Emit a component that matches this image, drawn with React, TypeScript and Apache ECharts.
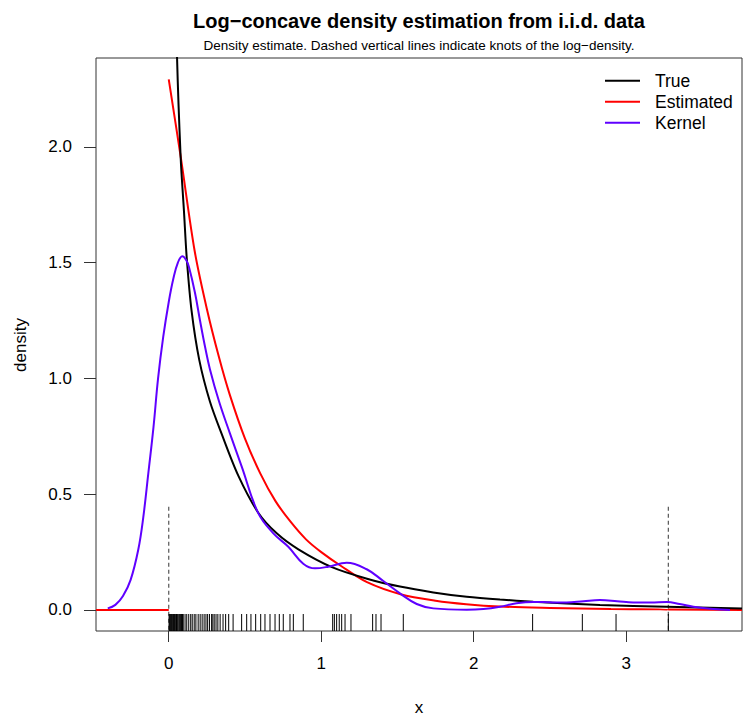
import React, { useEffect, useRef } from "react";
import * as echarts from "echarts";

// ---- data ----
const xTicks = [0, 1, 2, 3];
const yTicks = [0, 0.5, 1, 1.5, 2];

const trueX = [0.035, 0.052, 0.078, 0.1, 0.118, 0.15, 0.2, 0.27, 0.347, 0.456, 0.587, 0.708, 0.85, 1.07, 1.3, 1.516, 1.735, 1.954, 2.172, 2.39, 2.828, 3.265, 3.759];
const trueY = [3.2, 2.45, 1.956, 1.72, 1.52, 1.29, 1.08, 0.9, 0.76, 0.58, 0.42, 0.331, 0.262, 0.185, 0.135, 0.101, 0.076, 0.057, 0.045, 0.036, 0.022, 0.014, 0.006];

const estLeftX = [-0.477, 0];
const estLeftY = [0, 0];
const estX = [0, 0.08, 0.17, 0.25, 0.33, 0.4, 0.5, 0.6, 0.7, 0.8, 0.9, 1.0, 1.13, 1.3, 1.52, 1.75, 1.95, 2.17, 2.5, 2.9, 3.276];
const estY = [2.291, 1.95, 1.55, 1.3, 1.09, 0.93, 0.74, 0.59, 0.47, 0.38, 0.305, 0.25, 0.19, 0.12, 0.068, 0.04, 0.025, 0.015, 0.009, 0.004, 0.002];
const estRightX = [3.276, 3.759];
const estRightY = [0, 0];

const kernelX = [-0.4, -0.35, -0.3, -0.25, -0.2, -0.167, -0.134, -0.1, -0.07, -0.036, 0.0, 0.03, 0.06, 0.089, 0.115, 0.133, 0.172, 0.205, 0.24, 0.27, 0.33, 0.4, 0.478, 0.587, 0.686, 0.784, 0.882, 0.959, 1.046, 1.167, 1.298, 1.407, 1.516, 1.626, 1.735, 1.954, 2.063, 2.172, 2.28, 2.39, 2.5, 2.609, 2.72, 2.828, 2.94, 3.046, 3.16, 3.265, 3.35, 3.44, 3.571, 3.68];
const kernelY = [0.007, 0.022, 0.06, 0.13, 0.26, 0.4, 0.59, 0.79, 1.0, 1.18, 1.33, 1.43, 1.5, 1.527, 1.51, 1.48, 1.37, 1.25, 1.13, 1.04, 0.9, 0.765, 0.62, 0.418, 0.331, 0.273, 0.2, 0.18, 0.187, 0.204, 0.176, 0.125, 0.072, 0.026, 0.007, 0.001, 0.004, 0.014, 0.029, 0.035, 0.033, 0.032, 0.038, 0.043, 0.038, 0.032, 0.032, 0.034, 0.026, 0.014, 0.004, 0.0];

const knots = [0, 3.276];
const knotTop = 0.446;

const rugValues = [
  0.002, 0.006, 0.01, 0.014, 0.019, 0.023, 0.028, 0.032, 0.037, 0.041, 0.046, 0.051, 0.056, 0.061, 0.067, 0.072, 0.078, 0.084, 0.09, 0.095,
  0.107, 0.118, 0.131, 0.144, 0.154, 0.167, 0.178, 0.193, 0.206, 0.219, 0.232, 0.244, 0.255, 0.267, 0.281, 0.289, 0.298, 0.31, 0.322, 0.337, 0.356, 0.373, 0.393, 0.422,
  0.478, 0.511, 0.539, 0.57, 0.603, 0.631, 0.664, 0.697, 0.725, 0.751, 0.795, 0.817, 0.882,
  1.075, 1.086, 1.101, 1.118, 1.134, 1.156, 1.195, 1.337, 1.359, 1.392, 1.538,
  2.386, 2.712, 2.933, 3.276,
];

const legendNames = ["True", "Estimated", "Kernel"];
const legendColors = ["#000000", "#FF0000", "#5F00FF"];

// ---- layout ----
const X_MIN = -0.477;
const X_MAX = 3.759;
const Y_MIN = -0.0907;
const Y_MAX = 2.3834;
const FONT = "'Liberation Sans', Arial, Helvetica, sans-serif";

const zip = (xs: number[], ys: number[]) => xs.map((x, i) => [x, ys[i]]);

export default function App() {
  const ref = useRef<HTMLDivElement>(null);
  useEffect(() => {
    const chart = echarts.init(ref.current!, null, { renderer: "svg" });
    const estData: any[] = [...zip(estLeftX, estLeftY), [0, "-"], ...zip(estX, estY), ...zip(estRightX, estRightY)];
    const option: any = {
      animation: false,
      backgroundColor: "#ffffff",
      grid: {
        left: 96,
        top: 58,
        width: 646,
        height: 573,
        show: true,
        borderColor: "#333",
        borderWidth: 1,
        backgroundColor: "transparent",
      },
      xAxis: {
        type: "value",
        min: X_MIN,
        max: X_MAX,
        axisLine: { show: false, onZero: false },
        splitLine: { show: false },
        axisTick: { show: true, inside: false, length: 11, customValues: xTicks, lineStyle: { color: "#333", width: 1 } },
        axisLabel: {
          customValues: xTicks,
          margin: 24,
          color: "#000",
          fontSize: 17,
          fontFamily: FONT,
          formatter: (v: number) => String(v),
        },
      },
      yAxis: {
        type: "value",
        min: Y_MIN,
        max: Y_MAX,
        axisLine: { show: false, onZero: false },
        splitLine: { show: false },
        axisTick: { show: true, inside: false, length: 12, customValues: yTicks, lineStyle: { color: "#333", width: 1 } },
        axisLabel: {
          customValues: yTicks,
          margin: 24,
          color: "#000",
          fontSize: 17,
          fontFamily: FONT,
          formatter: (v: number) => v.toFixed(1),
        },
      },
      series: [
        {
          name: "Knots",
          type: "custom",
          data: knots.map((k) => [k, knotTop]),
          encode: { x: 0, y: 1 },
          renderItem: (params: any, api: any) => {
            const k = api.value(0);
            const top = api.coord([k, api.value(1)]);
            const bot = api.coord([k, Y_MIN]);
            return {
              type: "line",
              shape: { x1: top[0], y1: top[1], x2: bot[0], y2: bot[1] },
              style: { stroke: "#555", lineWidth: 1.2, lineDash: [4, 3] },
            };
          },
          z: 1,
        },
        {
          name: "Rug",
          type: "custom",
          data: rugValues.map((v) => [v, 0]),
          encode: { x: 0, y: 1 },
          renderItem: (params: any, api: any) => {
            const p = api.coord([api.value(0), Y_MIN]);
            return {
              type: "line",
              shape: { x1: p[0], y1: p[1], x2: p[0], y2: p[1] - 17 },
              style: { stroke: "#000", lineWidth: 1 },
            };
          },
          z: 2,
        },
        {
          name: "Estimated",
          type: "line",
          data: estData,
          symbol: "none",
          showSymbol: false,
          smooth: 0.3,
          connectNulls: false,
          clip: true,
          lineStyle: { color: legendColors[1], width: 2 },
          z: 3,
        },
        {
          name: "True",
          type: "line",
          data: zip(trueX, trueY),
          symbol: "none",
          showSymbol: false,
          smooth: 0.3,
          clip: true,
          lineStyle: { color: legendColors[0], width: 2 },
          z: 4,
        },
        {
          name: "Kernel",
          type: "line",
          data: zip(kernelX, kernelY),
          symbol: "none",
          showSymbol: false,
          smooth: 0.4,
          clip: true,
          lineStyle: { color: legendColors[2], width: 2 },
          z: 5,
        },
      ],
      graphic: [
        {
          type: "text",
          x: 419,
          y: 21,
          style: {
            text: "Log−concave density estimation from i.i.d. data",
            fontSize: 20,
            fontWeight: "bold",
            fontFamily: FONT,
            fill: "#000",
            align: "center",
            verticalAlign: "middle",
          },
        },
        {
          type: "text",
          x: 419,
          y: 45.5,
          style: {
            text: "Density estimate. Dashed vertical lines indicate knots of the log−density.",
            fontSize: 13.5,
            fontFamily: FONT,
            fill: "#000",
            align: "center",
            verticalAlign: "middle",
          },
        },
        {
          type: "text",
          x: 419,
          y: 707,
          style: { text: "x", fontSize: 17, fontFamily: FONT, fill: "#000", align: "center", verticalAlign: "middle" },
        },
        {
          type: "text",
          x: 20,
          y: 345,
          rotation: Math.PI / 2,
          style: { text: "density", fontSize: 17, fontFamily: FONT, fill: "#000", align: "center", verticalAlign: "middle" },
        },
        ...legendNames.flatMap((name, i) => [
          {
            type: "line",
            shape: { x1: 605, y1: 80.7 + i * 21, x2: 640, y2: 80.7 + i * 21 },
            style: { stroke: legendColors[i], lineWidth: 2 },
          },
          {
            type: "text",
            x: 655,
            y: 80.7 + i * 21,
            style: { text: name, fontSize: 17.5, fontFamily: FONT, fill: "#000", align: "left", verticalAlign: "middle" },
          },
        ]),
      ],
    };
    chart.setOption(option);
    return () => chart.dispose();
  }, []);
  return <div ref={ref} style={{ position: "absolute", left: 0, top: 0, width: 743, height: 722 }} />;
}
